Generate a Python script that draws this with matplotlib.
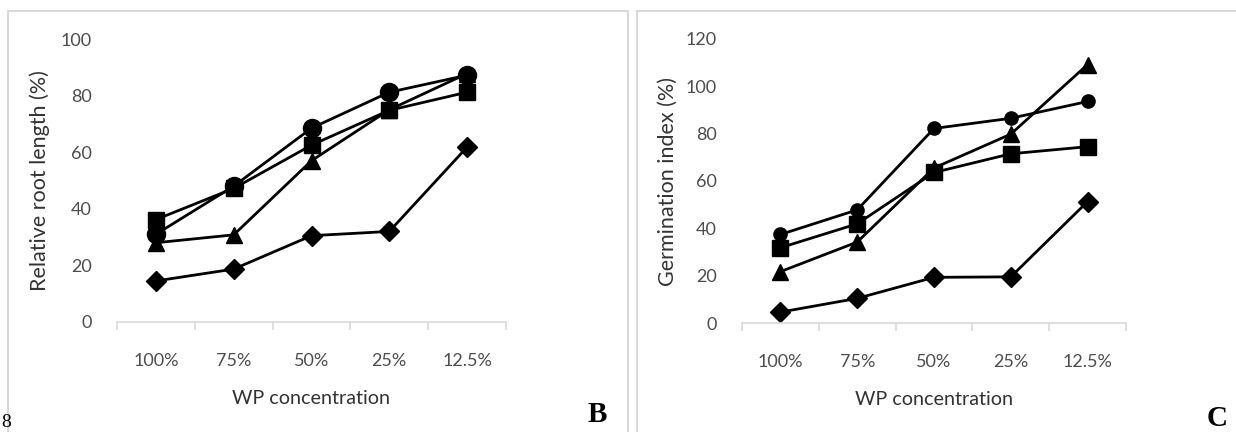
import matplotlib
matplotlib.use('Agg')
import matplotlib.pyplot as plt
from matplotlib.patches import Rectangle

# Concentration levels on the x axis
concentrations = ['100%', '75%', '50%', '25%', '12.5%']

# Panel B - relative root length (%)
rrl_diamond = [14.5, 18.7, 30.5, 32.0, 61.8]
rrl_triangle = [28.0, 30.8, 57.0, 75.0, 87.8]
rrl_circle = [31.0, 48.0, 68.5, 81.2, 87.2]
rrl_square = [36.2, 47.2, 62.5, 74.8, 81.2]

# Panel C - germination index (%)
gi_diamond = [4.6, 10.4, 19.3, 19.5, 51.3]
gi_triangle = [21.7, 34.2, 65.5, 79.8, 109.2]
gi_circle = [37.4, 47.8, 82.2, 86.5, 93.6]
gi_square = [31.8, 41.9, 63.6, 71.5, 74.5]

TICK_GRAY = '#4d4d4d'
LABEL_GRAY = '#333333'
AXIS_GRAY = '#d9d9d9'
plt.rcParams['font.family'] = ['Lato', 'DejaVu Sans']

W, H = 1236, 432
fig = plt.figure(figsize=(W / 100, H / 100), dpi=100)


def px_axes(x0, x1, y_top, y_bottom):
    return fig.add_axes([x0 / W, (H - y_bottom) / H, (x1 - x0) / W, (y_bottom - y_top) / H])


def draw_panel(ax, series, ymax, ystep, ylabel, circle_size):
    x = list(range(len(concentrations)))
    styles = [('D', 10), ('^', 12), ('o', circle_size), ('s', 12)]
    for vals, (mk, ms) in zip(series, styles):
        ax.plot(x, vals, color='black', linewidth=2.0, marker=mk, markersize=ms,
                markerfacecolor='black', markeredgecolor='black', clip_on=False)
    ax.set_xlim(-0.5, len(concentrations) - 0.5)
    ax.set_ylim(0, ymax)
    ax.set_yticks(range(0, ymax + 1, ystep))
    ax.set_xticks(x)
    ax.set_xticklabels(concentrations)
    ax.set_xticks([i - 0.5 for i in range(len(concentrations) + 1)], minor=True)
    ax.tick_params(axis='x', which='major', length=0, pad=22, labelsize=13, labelcolor=TICK_GRAY)
    ax.tick_params(axis='x', which='minor', length=6, width=1.2, color=AXIS_GRAY)
    ax.tick_params(axis='y', length=0, pad=18, labelsize=13, labelcolor=TICK_GRAY)
    for side in ['top', 'right', 'left']:
        ax.spines[side].set_visible(False)
    ax.spines['bottom'].set_color(AXIS_GRAY)
    ax.spines['bottom'].set_linewidth(1.2)
    ax.set_xlabel('WP concentration', fontsize=14.2, color=LABEL_GRAY)
    ax.xaxis.set_label_coords(0.5, -0.24)
    ax.set_ylabel(ylabel, fontsize=15.5, color=LABEL_GRAY)
    ax.patch.set_alpha(0)


# Light gray frames around each panel
fig.add_artist(Rectangle((8 / W, -0.1), (628 - 8) / W, (H - 11) / H + 0.1,
                         transform=fig.transFigure, fill=False, edgecolor=AXIS_GRAY, linewidth=1.5))
fig.add_artist(Rectangle((637 / W, -0.1), 0.5, (H - 11) / H + 0.1,
                         transform=fig.transFigure, fill=False, edgecolor=AXIS_GRAY, linewidth=1.5))

ax_b = px_axes(117, 506, 39, 322)
draw_panel(ax_b, [rrl_diamond, rrl_triangle, rrl_circle, rrl_square], 100, 20,
           'Relative root length (%)', 13)
ax_b.yaxis.set_label_coords(-0.172, 0.5)

ax_c = px_axes(742, 1126, 39, 323)
draw_panel(ax_c, [gi_diamond, gi_triangle, gi_circle, gi_square], 120, 20,
           'Germination index (%)', 9.5)
ax_c.yaxis.set_label_coords(-0.167, 0.5)

# Panel letters and the line number in the lower corner
fig.text(597 / W, (H - 415) / H, 'B', family='Liberation Serif', fontweight='bold',
         fontsize=21, ha='center', va='center')
fig.text(1217 / W, (H - 418) / H, 'C', family='Liberation Serif', fontweight='bold',
         fontsize=21, ha='center', va='center')
fig.text(1 / W, 1 / H, '8', family='Liberation Serif', fontsize=14,
         ha='left', va='bottom')

fig.savefig('out.png', dpi=100)
